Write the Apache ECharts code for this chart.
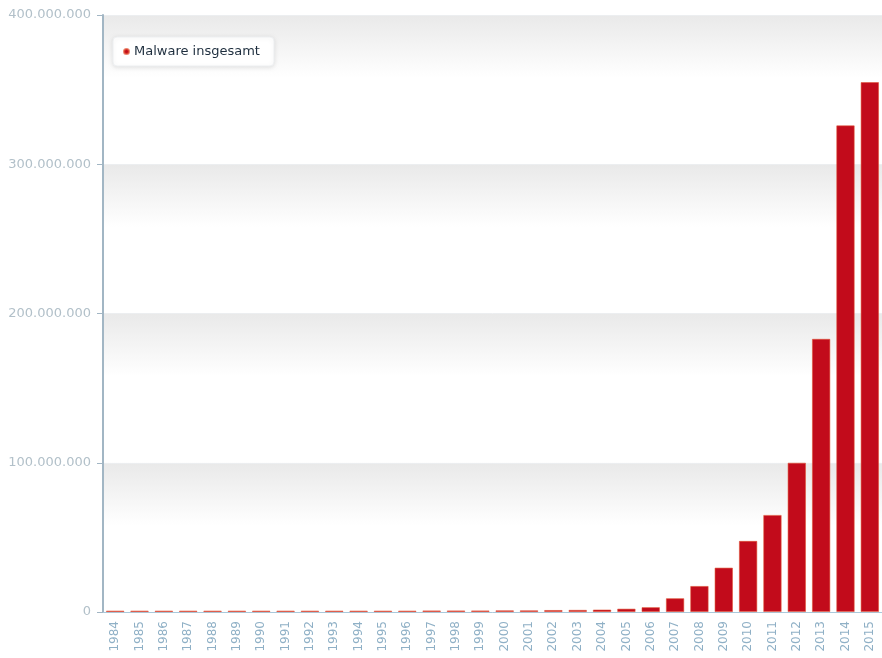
<!DOCTYPE html>
<html>
<head>
<meta charset="utf-8">
<script src="https://cdn.jsdelivr.net/npm/echarts@6/dist/echarts.min.js"></script>
<style>
html,body{margin:0;padding:0;background:#fff;}
#chart{width:882px;height:658px;}
</style>
</head>
<body>
<div id="chart"></div>
<script>
var years = ['1984','1985','1986','1987','1988','1989','1990','1991','1992','1993','1994','1995','1996','1997','1998','1999','2000','2001','2002','2003','2004','2005','2006','2007','2008','2009','2010','2011','2012','2013','2014','2015'];
var malware = [900000,900000,900000,900000,900000,900000,900000,900000,900000,900000,900000,900000,900000,1000000,1000000,1000000,1100000,1100000,1300000,1400000,1600000,2200000,3200000,9200000,17400000,29700000,47600000,65000000,100000000,183000000,326000000,355000000];
var seriesName = 'Malware insgesamt';
var yTicks = [0, 100000000, 200000000, 300000000, 400000000];

var chart = echarts.init(document.getElementById('chart'), null, {renderer:'canvas'});
function fmt(v){ return String(v).replace(/\B(?=(\d{3})+(?!\d))/g, '.'); }
chart.setOption({
  animation:false,
  backgroundColor:'#fff',
  grid:{left:103, top:15, width:786, height:597, containLabel:false},
  legend:{
    data:[seriesName],
    left:113, top:37,
    icon:'circle', itemWidth:5, itemHeight:5, itemGap:5,
    backgroundColor:'#fff',
    borderColor:'#eef0f2', borderWidth:1, borderRadius:4,
    shadowColor:'rgba(0,0,0,0.10)', shadowBlur:4, shadowOffsetY:1,
    padding:[8,14,8,10],
    textStyle:{fontFamily:'DejaVu Sans', fontSize:13, color:'#1e2e3e'}
  },
  xAxis:{
    type:'category', data:years,
    axisLine:{lineStyle:{color:'#a9c9dc', width:1}},
    axisTick:{alignWithLabel:true, length:4, lineStyle:{color:'#a9c9dc'}},
    axisLabel:{rotate:90, interval:0, margin:9, fontFamily:'DejaVu Sans', fontSize:12, color:'#8fb0c6'},
    splitLine:{show:false}
  },
  yAxis:{
    type:'value', min:yTicks[0], max:yTicks[yTicks.length-1], interval:yTicks[1]-yTicks[0],
    axisLine:{show:true, lineStyle:{color:'#a2b6c4', width:2}},
    axisTick:{show:true, length:6, lineStyle:{color:'#a2b6c4', width:1}},
    axisLabel:{margin:12, fontFamily:'DejaVu Sans', fontSize:13, color:'#b2c0c9', formatter:fmt},
    splitLine:{show:true, lineStyle:{color:'#eceef0', width:1}},
    splitArea:{show:true, areaStyle:{color:[
      new echarts.graphic.LinearGradient(0,0,0,1,[
        {offset:0, color:'#e9e9e9'},
        {offset:0.42, color:'#ffffff'},
        {offset:1, color:'#ffffff'}
      ])
    ]}}
  },
  series:[{
    name:seriesName, type:'bar', data:malware, barWidth:'75%',
    itemStyle:{color:'#c20b1b', borderColor:'rgba(225,80,50,0.7)', borderWidth:0.8}
  }]
});
</script>
</body>
</html>
